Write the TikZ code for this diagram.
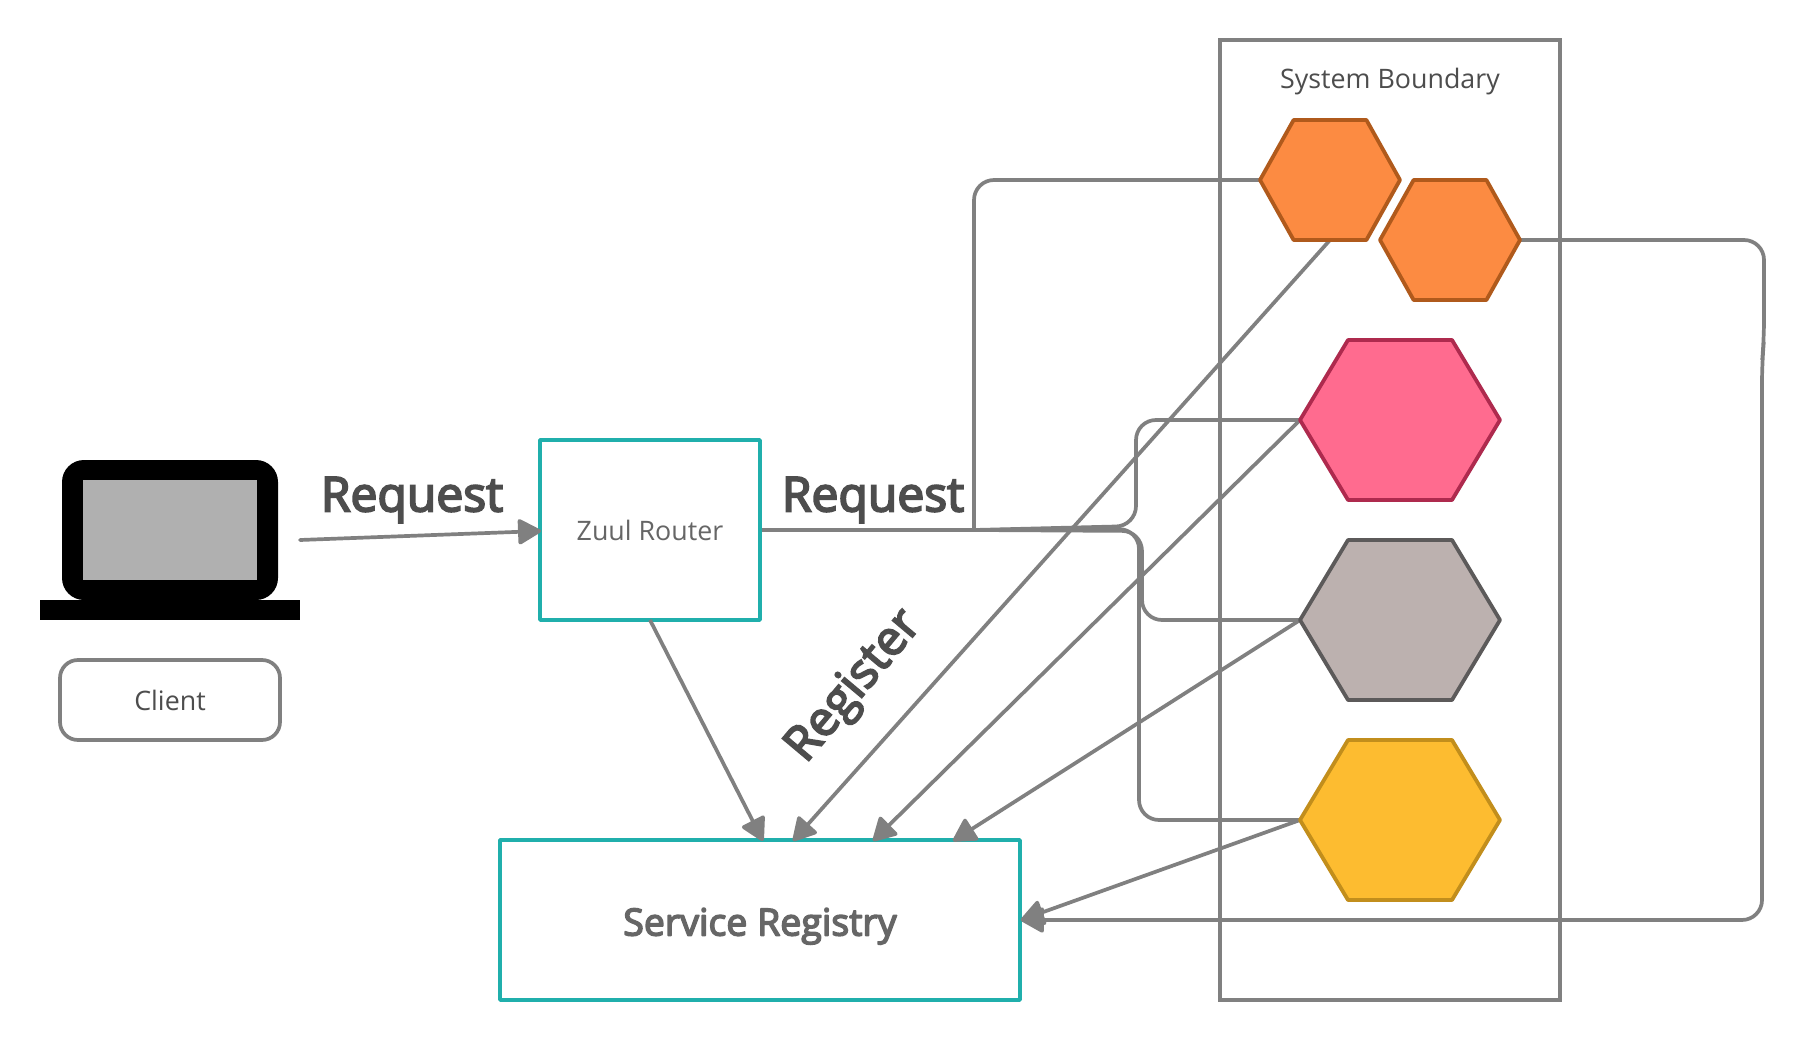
\documentclass[tikz,border=0pt]{standalone}
\usepackage{fontspec}
\setmainfont{Open Sans}
\newfontfamily\boldish[FakeBold=4]{Open Sans}
\usetikzlibrary{arrows.meta,calc}
\definecolor{linegray}{HTML}{808080}
\definecolor{teal1}{HTML}{20AFAC}
\definecolor{txtdark}{HTML}{4D4D4D}
\definecolor{txtmid}{HTML}{666666}
\definecolor{orangeF}{HTML}{FC8B42}
\definecolor{orangeD}{HTML}{B05A1C}
\definecolor{pinkF}{HTML}{FF6B8F}
\definecolor{pinkD}{HTML}{AE2A4E}
\definecolor{greyF}{HTML}{BCB1AF}
\definecolor{greyD}{HTML}{5C5A5A}
\definecolor{yellowF}{HTML}{FDBC30}
\definecolor{yellowD}{HTML}{C28E1C}
\tikzset{
  conn/.style={draw=linegray,line width=3.7pt,line join=round},
  rconn/.style={conn,rounded corners=20pt},
  tipped/.style={conn,-{Triangle[length=25pt,width=27pt,round]}},
  tealbox/.style={draw=teal1,line width=3.4pt,fill=white,line join=round,inner sep=0pt},
  hexanchor/.style={inner sep=0pt,outer sep=0pt},
  biglabel/.style={text=txtdark,font=\boldish\fontsize{48}{54}\selectfont,inner sep=0pt},
  smalllabel/.style={text=txtdark,font=\fontsize{26.8}{32}\selectfont,inner sep=0pt},
}
% hexagon: named anchor node and its outline
\newcommand{\hexa}[6]{%
  \node[hexanchor,minimum width=#4pt,minimum height=#5pt] (#1) at (#2,#3) {};
  \draw[line width=3.8pt,line join=round,#6]
    (#1.west) -- ($(#1.north west)!.24!(#1.north east)$) -- ($(#1.north west)!.76!(#1.north east)$)
    -- (#1.east) -- ($(#1.south west)!.76!(#1.south east)$) -- ($(#1.south west)!.24!(#1.south east)$) -- cycle;
}
\begin{document}
\begin{tikzpicture}[x=1pt,y=-1pt]
\useasboundingbox (0,0) rectangle (1804,1040);
\fill[white] (0,0) rectangle (1804,1040);
% boundary
\node[draw=linegray,line width=3.8pt,minimum width=340pt,minimum height=960pt,inner sep=0pt] (bound) at (1390,520) {};
\node[smalllabel] (boundtxt) at (1390,82) {System Boundary};
% laptop
\node[fill=black,rounded corners=22pt,minimum width=216pt,minimum height=140pt,inner sep=0pt] (screen) at (170,530) {};
\node[fill=black!31,minimum width=174pt,minimum height=100pt,inner sep=0pt] (display) at (170,530) {};
\node[fill=black,minimum width=260pt,minimum height=20pt,inner sep=0pt] (base) at (170,610) {};
% client
\node[draw=linegray,line width=3.7pt,rounded corners=18pt,minimum width=220pt,minimum height=80pt,smalllabel] (client) at (170,700) {Client};
% boxes
\node[tealbox,minimum width=220pt,minimum height=180pt,text=txtmid,font=\fontsize{26.8}{32}\selectfont] (zuul) at (650,530) {Zuul Router};
\node[tealbox,minimum width=520pt,minimum height=160pt,text=txtmid,font=\boldish\fontsize{37.5}{44}\selectfont] (reg) at (760,920) {\smash{\raisebox{-15.5pt}{Service Registry}}};
% hexagon anchors first, so that connectors can name them
\node[hexanchor,minimum width=140pt,minimum height=120pt] (o1) at (1330,180) {};
\node[hexanchor,minimum width=140pt,minimum height=120pt] (o2) at (1450,240) {};
\node[hexanchor,minimum width=200pt,minimum height=160pt] (pk) at (1400,420) {};
\node[hexanchor,minimum width=200pt,minimum height=160pt] (gr) at (1400,620) {};
\node[hexanchor,minimum width=200pt,minimum height=160pt] (ye) at (1400,820) {};
% free ends
\coordinate (cl) at (300,540);
\coordinate (zin) at (541,531);
\coordinate (hub) at (974,530);
\coordinate (t1) at (763,841);
\coordinate (t2) at (793,841);
\coordinate (t3) at (873,841);
\coordinate (t4) at (953,841);
\coordinate (t5) at (1021,920);
\coordinate (t6) at (1021,920);
\coordinate (zb) at (650,620);
% connectors
\draw[tipped,line cap=round] (cl) -- (zin);
\draw[conn] (zuul.east) -- (hub);
\draw[rconn] (hub) -- (974,180) -- (o1.west);
\draw[rconn] (hub) -- (1136,526) -- (1136,420) -- (pk.west);
\draw[rconn] (hub) -- (1142,531) -- (1142,620) -- (gr.west);
\draw[rconn] (hub) -- (1139,529) -- (1139,820) -- (ye.west);
\draw[tipped] (zb) -- (t1);
\draw[tipped] (o1.south) -- (t2);
\draw[tipped] (pk.west) -- (t3);
\draw[tipped] (gr.west) -- (t4);
\draw[tipped] (ye.west) -- (t5);
\draw[conn,rounded corners=20pt,-{Triangle[length=25pt,width=27pt,round]}] (o2.east) -- (1764,240) -- (1764,340) -- (1762,362) -- (1762,920) -- (t6);
% hexagons
\hexa{o1}{1330}{180}{140}{120}{draw=orangeD,fill=orangeF}
\hexa{o2}{1450}{240}{140}{120}{draw=orangeD,fill=orangeF}
\hexa{pk}{1400}{420}{200}{160}{draw=pinkD,fill=pinkF}
\hexa{gr}{1400}{620}{200}{160}{draw=greyD,fill=greyF}
\hexa{ye}{1400}{820}{200}{160}{draw=yellowD,fill=yellowF}
% labels
\node[biglabel] (req1) at (412,500) {Request};
\node[biglabel] (req2) at (873,500) {Request};
\node[biglabel,rotate=50] (regtxt) at (855,687) {Register};
\end{tikzpicture}
\end{document}
